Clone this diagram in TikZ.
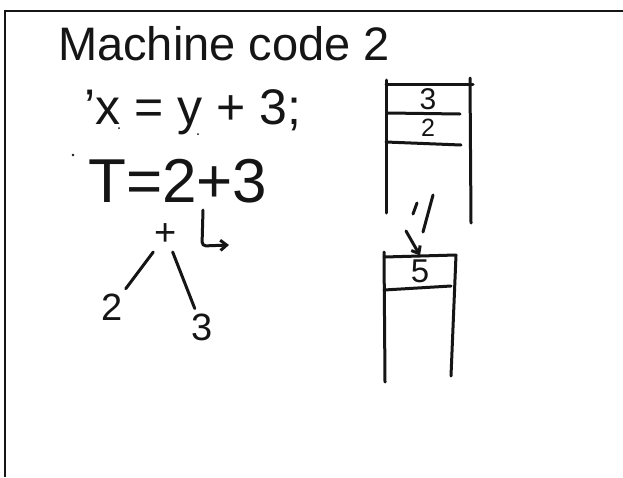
\documentclass[tikz,border=0pt]{standalone}
\usepackage{fontspec}
\setmainfont{Liberation Sans}
\usetikzlibrary{arrows.meta,positioning}
\definecolor{ink}{HTML}{151515}
\tikzset{
  pen/.style={draw=ink, line width=3pt, line cap=round, line join=round},
  penarrow/.style={pen, -{Straight Barb[length=2.2mm,width=3.6mm,line width=3pt]}},
  hand/.style={text=ink, inner sep=0pt},
  leaf/.style={hand, outer sep=5pt, font=\fontsize{38}{40}\selectfont},
  cell/.style={hand, font=\fontsize{30}{32}\selectfont},
  speck/.style={fill=ink}
}
\begin{document}
\begin{tikzpicture}[x=1pt, y=-1pt]
\useasboundingbox (0,0) rectangle (623,477);
\fill[white] (0,0) rectangle (623,477);
% sheet edge
\draw[line width=2pt, draw=ink] (5,477) -- (5,11) -- (623,11);

% heading and the two statements
\node[hand, anchor=base west, font=\fontsize{47}{49}\selectfont] (title) at (58,60) {Machine code 2};
\node[hand, anchor=base west, font=\fontsize{50}{52}\selectfont] (stmt) at (84,124) {'x = y + 3;};
\node[hand, anchor=base west, font=\fontsize{62}{64}\selectfont] (expr) at (88,202) {T=2+3};
\fill[speck] (73,155) circle (1.3pt);
\fill[speck] (119,128) circle (1pt);
\fill[speck] (198,134) circle (1pt);

% expression tree
\node[hand, outer sep=6pt, font=\fontsize{38}{40}\selectfont] (plus) at (166,235) {+};
\node[leaf] (two) at (112,307) {2};
\node[leaf] (three) at (202,327) {3};
\draw[pen] (plus) -- (two);
\draw[pen] (plus) -- (three);
\draw[penarrow, rounded corners=4pt] (203,210) -- (202,246) -- (229,245);

% stack before
\node[cell] (cthree) at (428,99) {3};
\node[cell, font=\fontsize{25}{27}\selectfont] (ctwo) at (428,128) {2};
\draw[pen] (386,80) -- (386,213);
\draw[pen] (470,78) -- (471,223);
\draw[pen] (386,84) -- (473,84);
\draw[pen] (388,113) -- (460,114);
\draw[pen] (386,142) -- (461,145);

% stack after
\node[cell, outer sep=4pt, font=\fontsize{33}{35}\selectfont] (cfive) at (420,271) {5};
\draw[pen] (384,252) -- (385,382);
\draw[pen] (456,255) -- (451,376);
\draw[pen] (384,257) -- (456,255);
\draw[pen] (384,290) -- (451,286);

% step marks
\draw[pen] (433,195) -- (423,232);
\draw[pen] (417,203) -- (413,214);
\coordinate (from) at (406,231);
\draw[penarrow] (from) -- (cfive.north);
\end{tikzpicture}
\end{document}
